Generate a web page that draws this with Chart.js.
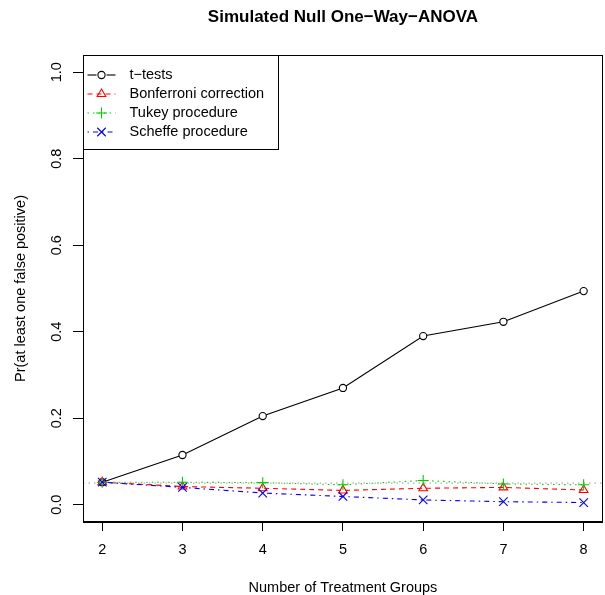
<!DOCTYPE html>
<html>
<head>
<meta charset="utf-8">
<script src="https://cdn.jsdelivr.net/npm/chart.js@4/dist/chart.umd.min.js"></script>
<style>
  html, body { margin: 0; padding: 0; background: #fff; overflow: hidden; }
  #wrap { width: 610px; height: 595px; }
</style>
</head>
<body>
<div id="wrap"><canvas id="myChart"></canvas></div>
<script>
// number of groups and the simulated familywise error rate for each method
const groups = [2, 3, 4, 5, 6, 7, 8];
const tTests = [0.052, 0.115, 0.205, 0.270, 0.390, 0.423, 0.494];
const bonferroni = [0.052, 0.042, 0.038, 0.033, 0.038, 0.040, 0.034];
const tukey = [0.052, 0.052, 0.051, 0.046, 0.056, 0.048, 0.046];
const scheffe = [0.052, 0.040, 0.027, 0.019, 0.011, 0.007, 0.005];
const nominalAlpha = 0.05;

const xTicks = [2, 3, 4, 5, 6, 7, 8];
const yTicks = [0, 0.2, 0.4, 0.6, 0.8, 1.0];
const seriesNames = ['t\u2212tests', 'Bonferroni correction', 'Tukey procedure', 'Scheffe procedure'];

const FONT = '"Liberation Sans", Arial, Helvetica, sans-serif';
Chart.defaults.font.family = FONT;
Chart.defaults.font.size = 14.5;
Chart.defaults.color = '#000';

const toPoints = (ys) => groups.map((g, i) => ({ x: g, y: ys[i] }));

const datasets = [
    { label: seriesNames[0], data: toPoints(tTests), borderColor: '#000', borderDash: [],
      pointStyle: 'circle', pointRadius: 3.6, pointBackgroundColor: '#fff', order: 3 },
    { label: seriesNames[1], data: toPoints(bonferroni), borderColor: '#ff0000', borderDash: [5, 4],
      pointStyle: 'triangle', pointRadius: 5, pointBackgroundColor: 'rgba(0,0,0,0)', order: 2 },
    { label: seriesNames[2], data: toPoints(tukey), borderColor: '#00cd00', borderDash: [1.5, 4],
      pointStyle: 'cross', pointRadius: 5.5, pointBackgroundColor: 'rgba(0,0,0,0)', order: 1 },
    { label: seriesNames[3], data: toPoints(scheffe), borderColor: '#0000ff', borderDash: [1.5, 4, 5, 4],
      pointStyle: 'crossRot', pointRadius: 6, pointBackgroundColor: 'rgba(0,0,0,0)', order: 0 },
];
datasets.forEach(d => {
    d.borderWidth = 1.1;
    d.pointBorderColor = d.borderColor;
    d.pointBorderWidth = 1.1;
    d.tension = 0;
    d.fill = false;
});

// horizontal reference line at the nominal level + plot box
const framePlugin = {
    id: 'frame',
    beforeDatasetsDraw(chart) {
        const { ctx, chartArea: a, scales: { y } } = chart;
        const py = y.getPixelForValue(nominalAlpha);
        ctx.save();
        ctx.strokeStyle = '#999999';
        ctx.lineWidth = 1;
        ctx.setLineDash([1.5, 4]);
        ctx.beginPath();
        ctx.moveTo(a.left, py);
        ctx.lineTo(a.right, py);
        ctx.stroke();
        ctx.restore();
    },
    afterDraw(chart) {
        const { ctx, chartArea: a } = chart;
        ctx.save();
        ctx.strokeStyle = '#000';
        ctx.lineWidth = 1;
        ctx.strokeRect(Math.round(a.left) + 0.5, Math.round(a.top) + 0.5,
            Math.round(a.right - a.left) - 1, Math.round(a.bottom - a.top) - 1);

        // R-style legend in the top-left corner
        const left = Math.round(a.left) + 0.5;
        const top = Math.round(a.top) + 0.5;
        ctx.fillStyle = '#fff';
        ctx.fillRect(left, top, 195, 94);
        ctx.strokeRect(left, top, 195, 94);
        ctx.font = '14.5px ' + FONT;
        ctx.textBaseline = 'middle';
        ctx.textAlign = 'left';
        datasets.forEach((d, i) => {
            const yy = top + 19.5 + i * 19;
            ctx.save();
            ctx.strokeStyle = d.borderColor;
            ctx.lineWidth = 1.1;
            ctx.setLineDash(d.borderDash);
            ctx.beginPath();
            ctx.moveTo(left + 4, yy);
            ctx.lineTo(left + 32, yy);
            ctx.stroke();
            ctx.setLineDash([]);
            if (d.pointStyle === 'circle') {
                ctx.fillStyle = '#fff';
                ctx.fillRect(left + 13, yy - 5, 10, 10);
            }
            ctx.fillStyle = d.pointBackgroundColor;
            ctx.strokeStyle = d.pointBorderColor;
            Chart.helpers.drawPoint(ctx, { pointStyle: d.pointStyle, radius: d.pointRadius, rotation: 0, borderWidth: 1.1 }, left + 18, yy);
            ctx.restore();
            ctx.fillStyle = '#000';
            ctx.fillText(d.label, left + 46, yy);
        });
        ctx.restore();
    }
};

const ctx = document.getElementById('myChart');

new Chart(ctx, {
    type: 'line',
    data: { datasets: datasets },
    options: {
        responsive: true,
        maintainAspectRatio: false,
        animation: false,
        events: [],
        layout: { padding: { left: 0, right: 3, top: 0, bottom: 0 } },
        plugins: {
            legend: { display: false },
            tooltip: { enabled: false },
            title: {
                display: true,
                text: 'Simulated Null One\u2212Way\u2212ANOVA',
                fullSize: false,
                font: { size: 17, weight: 'bold', lineHeight: 1 },
                color: '#000',
                padding: { top: 8.5, bottom: 29.5 }
            }
        },
        scales: {
            x: {
                type: 'linear',
                min: 1.76,
                max: 8.24,
                afterBuildTicks: (s) => { s.ticks = xTicks.map(v => ({ value: v })); },
                afterFit: (s) => { s.height = 73; s.paddingLeft = 0; s.paddingRight = 0; },
                grid: { drawOnChartArea: false, drawTicks: true, tickLength: 9, tickColor: '#000', tickWidth: 1 },
                border: { display: true, color: '#000', width: 1 },
                ticks: { padding: 10, maxRotation: 0, font: { size: 14.5 }, color: '#000' },
                title: {
                    display: true,
                    text: 'Number of Treatment Groups',
                    font: { size: 14.5, lineHeight: 1 },
                    padding: { top: 0, bottom: 0 },
                    color: '#000'
                }
            },
            y: {
                type: 'linear',
                min: -0.04,
                max: 1.04,
                afterBuildTicks: (s) => { s.ticks = yTicks.map(v => ({ value: v })); },
                afterFit: (s) => { s.width = 83; s.paddingTop = 0; s.paddingBottom = 0; },
                grid: { drawOnChartArea: false, drawTicks: true, tickLength: 10, tickColor: '#000', tickWidth: 1 },
                border: { display: true, color: '#000', width: 1 },
                ticks: {
                    minRotation: 90,
                    maxRotation: 90,
                    crossAlign: 'center',
                    padding: 6,
                    font: { size: 14.5 },
                    color: '#000',
                    callback: (v) => Number(v).toFixed(1)
                },
                title: {
                    display: true,
                    text: 'Pr(at least one false positive)',
                    font: { size: 14.5, lineHeight: 1 },
                    padding: { top: 13.5, bottom: 0 },
                    color: '#000'
                }
            }
        }
    },
    plugins: [framePlugin]
});
</script>
</body>
</html>
